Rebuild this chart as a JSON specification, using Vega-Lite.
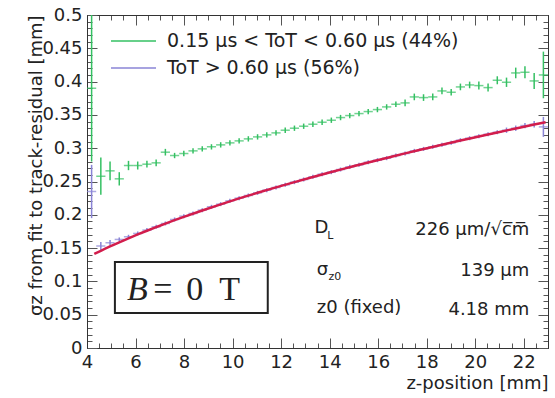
{
  "$schema": "https://vega.github.io/schema/vega-lite/v6.json",
  "width": 461,
  "height": 333,
  "autosize": {"type": "none"},
  "padding": {"left": 87, "top": 15, "right": 7, "bottom": 50},
  "background": "white",
  "datasets": {
    "green": [
      {"z": 4.19, "s": 0.390, "e": 0.110},
      {"z": 4.57, "s": 0.258, "e": 0.028},
      {"z": 4.95, "s": 0.266, "e": 0.014},
      {"z": 5.33, "s": 0.254, "e": 0.010},
      {"z": 5.71, "s": 0.274, "e": 0.007},
      {"z": 6.09, "s": 0.274, "e": 0.006},
      {"z": 6.47, "s": 0.276, "e": 0.005},
      {"z": 6.85, "s": 0.278, "e": 0.005},
      {"z": 7.23, "s": 0.294, "e": 0.005},
      {"z": 7.61, "s": 0.289, "e": 0.004},
      {"z": 7.99, "s": 0.292, "e": 0.004},
      {"z": 8.37, "s": 0.296, "e": 0.004},
      {"z": 8.75, "s": 0.299, "e": 0.004},
      {"z": 9.13, "s": 0.302, "e": 0.004},
      {"z": 9.51, "s": 0.305, "e": 0.004},
      {"z": 9.89, "s": 0.308, "e": 0.004},
      {"z": 10.27, "s": 0.311, "e": 0.004},
      {"z": 10.65, "s": 0.314, "e": 0.004},
      {"z": 11.03, "s": 0.317, "e": 0.004},
      {"z": 11.41, "s": 0.320, "e": 0.004},
      {"z": 11.79, "s": 0.323, "e": 0.004},
      {"z": 12.17, "s": 0.327, "e": 0.004},
      {"z": 12.55, "s": 0.330, "e": 0.004},
      {"z": 12.93, "s": 0.333, "e": 0.004},
      {"z": 13.31, "s": 0.336, "e": 0.004},
      {"z": 13.69, "s": 0.339, "e": 0.004},
      {"z": 14.07, "s": 0.342, "e": 0.004},
      {"z": 14.45, "s": 0.346, "e": 0.004},
      {"z": 14.83, "s": 0.349, "e": 0.004},
      {"z": 15.21, "s": 0.352, "e": 0.004},
      {"z": 15.59, "s": 0.355, "e": 0.004},
      {"z": 15.97, "s": 0.358, "e": 0.004},
      {"z": 16.35, "s": 0.362, "e": 0.004},
      {"z": 16.73, "s": 0.366, "e": 0.004},
      {"z": 17.11, "s": 0.368, "e": 0.005},
      {"z": 17.49, "s": 0.377, "e": 0.005},
      {"z": 17.87, "s": 0.376, "e": 0.005},
      {"z": 18.25, "s": 0.377, "e": 0.005},
      {"z": 18.63, "s": 0.386, "e": 0.005},
      {"z": 19.01, "s": 0.384, "e": 0.005},
      {"z": 19.39, "s": 0.392, "e": 0.005},
      {"z": 19.77, "s": 0.395, "e": 0.005},
      {"z": 20.15, "s": 0.394, "e": 0.006},
      {"z": 20.53, "s": 0.391, "e": 0.006},
      {"z": 20.91, "s": 0.402, "e": 0.006},
      {"z": 21.29, "s": 0.399, "e": 0.007},
      {"z": 21.67, "s": 0.413, "e": 0.008},
      {"z": 22.05, "s": 0.414, "e": 0.009},
      {"z": 22.43, "s": 0.401, "e": 0.012},
      {"z": 22.81, "s": 0.410, "e": 0.035}
    ],
    "purple": [
      {"z": 4.19, "s": 0.235, "e": 0.040},
      {"z": 4.57, "s": 0.153, "e": 0.006},
      {"z": 4.95, "s": 0.158, "e": 0.004},
      {"z": 5.33, "s": 0.163, "e": 0.003},
      {"z": 5.71, "s": 0.167, "e": 0.003},
      {"z": 6.09, "s": 0.172, "e": 0.003},
      {"z": 6.47, "s": 0.177, "e": 0.003},
      {"z": 6.85, "s": 0.182, "e": 0.003},
      {"z": 7.23, "s": 0.187, "e": 0.003},
      {"z": 7.61, "s": 0.193, "e": 0.003},
      {"z": 7.99, "s": 0.198, "e": 0.003},
      {"z": 8.37, "s": 0.202, "e": 0.003},
      {"z": 8.75, "s": 0.207, "e": 0.003},
      {"z": 9.13, "s": 0.212, "e": 0.003},
      {"z": 9.51, "s": 0.216, "e": 0.003},
      {"z": 9.89, "s": 0.221, "e": 0.003},
      {"z": 10.27, "s": 0.225, "e": 0.003},
      {"z": 10.65, "s": 0.229, "e": 0.003},
      {"z": 11.03, "s": 0.233, "e": 0.003},
      {"z": 11.41, "s": 0.237, "e": 0.003},
      {"z": 11.79, "s": 0.241, "e": 0.003},
      {"z": 12.17, "s": 0.245, "e": 0.003},
      {"z": 12.55, "s": 0.249, "e": 0.003},
      {"z": 12.93, "s": 0.253, "e": 0.003},
      {"z": 13.31, "s": 0.257, "e": 0.003},
      {"z": 13.69, "s": 0.261, "e": 0.003},
      {"z": 14.07, "s": 0.264, "e": 0.003},
      {"z": 14.45, "s": 0.268, "e": 0.003},
      {"z": 14.83, "s": 0.272, "e": 0.003},
      {"z": 15.21, "s": 0.275, "e": 0.003},
      {"z": 15.59, "s": 0.279, "e": 0.003},
      {"z": 15.97, "s": 0.282, "e": 0.003},
      {"z": 16.35, "s": 0.285, "e": 0.003},
      {"z": 16.73, "s": 0.289, "e": 0.003},
      {"z": 17.11, "s": 0.292, "e": 0.003},
      {"z": 17.49, "s": 0.296, "e": 0.003},
      {"z": 17.87, "s": 0.299, "e": 0.003},
      {"z": 18.25, "s": 0.302, "e": 0.003},
      {"z": 18.63, "s": 0.305, "e": 0.003},
      {"z": 19.01, "s": 0.308, "e": 0.003},
      {"z": 19.39, "s": 0.312, "e": 0.003},
      {"z": 19.77, "s": 0.315, "e": 0.003},
      {"z": 20.15, "s": 0.318, "e": 0.003},
      {"z": 20.53, "s": 0.321, "e": 0.003},
      {"z": 20.91, "s": 0.324, "e": 0.003},
      {"z": 21.29, "s": 0.327, "e": 0.004},
      {"z": 21.67, "s": 0.330, "e": 0.004},
      {"z": 22.05, "s": 0.334, "e": 0.004},
      {"z": 22.43, "s": 0.336, "e": 0.005},
      {"z": 22.81, "s": 0.332, "e": 0.015}
    ],
    "fit": [
      {"z": 4.30, "s": 0.1412},
      {"z": 4.57, "s": 0.1460},
      {"z": 4.95, "s": 0.1525},
      {"z": 5.33, "s": 0.1587},
      {"z": 5.71, "s": 0.1647},
      {"z": 6.09, "s": 0.1705},
      {"z": 6.47, "s": 0.1761},
      {"z": 6.85, "s": 0.1815},
      {"z": 7.23, "s": 0.1868},
      {"z": 7.61, "s": 0.1919},
      {"z": 7.99, "s": 0.1969},
      {"z": 8.75, "s": 0.2065},
      {"z": 9.51, "s": 0.2157},
      {"z": 10.27, "s": 0.2246},
      {"z": 11.03, "s": 0.2330},
      {"z": 11.79, "s": 0.2412},
      {"z": 12.55, "s": 0.2491},
      {"z": 13.31, "s": 0.2568},
      {"z": 14.07, "s": 0.2643},
      {"z": 14.83, "s": 0.2715},
      {"z": 15.59, "s": 0.2786},
      {"z": 16.35, "s": 0.2854},
      {"z": 17.11, "s": 0.2922},
      {"z": 17.87, "s": 0.2987},
      {"z": 18.63, "s": 0.3052},
      {"z": 19.39, "s": 0.3115},
      {"z": 20.15, "s": 0.3176},
      {"z": 20.91, "s": 0.3237},
      {"z": 21.67, "s": 0.3296},
      {"z": 22.43, "s": 0.3355},
      {"z": 22.90, "s": 0.3390}
    ],
    "paramLeft": [
      {"z": 13.38, "s": 0.1727, "text": "D"},
      {"z": 13.47, "s": 0.1096, "text": "σ"},
      {"z": 13.47, "s": 0.0526, "text": "z0 (fixed)"}
    ],
    "paramSub": [
      {"z": 13.90, "s": 0.1640, "text": "L"},
      {"z": 13.95, "s": 0.1020, "text": "z0"}
    ],
    "paramRight": [
      {"z": 22.23, "s": 0.1697, "text": "226 µm/√c̅m̅"},
      {"z": 22.23, "s": 0.1080, "text": "139 µm"},
      {"z": 22.23, "s": 0.0495, "text": "4.18 mm"}
    ],
    "boxItalic": [
      {"z": 5.65, "s": 0.072, "text": "B"}
    ],
    "boxUpright": [
      {"z": 7.13, "s": 0.072, "text": "="},
      {"z": 8.44, "s": 0.072, "text": "0"},
      {"z": 9.88, "s": 0.072, "text": "T"}
    ]
  },
  "resolve": {"axis": {"x": "independent", "y": "independent"}},
  "layer": [
    {
      "data": {"name": "green"},
      "mark": {"type": "tick", "orient": "horizontal", "size": 9.2, "thickness": 1.5, "color": "#35c063"},
      "encoding": {
        "x": {"field": "z", "type": "quantitative", "scale": {"domain": [4, 23], "nice": false, "zero": false},
          "axis": {"orient": "bottom", "values": [4, 6, 8, 10, 12, 14, 16, 18, 20, 22], "ticks": false, "domain": false, "labelPadding": 5, "labelFlush": false, "labelOverlap": false,
            "title": "z-position [mm]", "titleAnchor": "end", "titlePadding": 3}},
        "y": {"field": "s", "type": "quantitative", "scale": {"domain": [0, 0.5], "nice": false, "zero": true},
          "axis": {"orient": "left", "values": [0, 0.05, 0.1, 0.15, 0.2, 0.25, 0.3, 0.35, 0.4, 0.45, 0.5], "format": ".2~f", "ticks": false, "domain": false, "labelPadding": 5, "labelFlush": false, "labelOverlap": false,
            "title": "σz from fit to track-residual [mm]", "titleAnchor": "end", "titlePadding": -4}}
      }
    },
    {
      "data": {"name": "green"},
      "mark": {"type": "errorbar", "thickness": 1.5},
      "encoding": {
        "x": {"field": "z", "type": "quantitative", "axis": null},
        "y": {"field": "s", "type": "quantitative", "axis": null},
        "yError": {"field": "e"},
        "color": {"datum": "0.15 µs < ToT < 0.60 µs (44%)", "type": "nominal",
          "scale": {"domain": ["0.15 µs < ToT < 0.60 µs (44%)", "ToT > 0.60 µs (56%)"], "range": ["#35c063", "#8a84d6"]},
          "legend": {"orient": "none", "legendX": 23, "legendY": 16.5, "title": null, "symbolType": "stroke", "symbolSize": 2025, "symbolStrokeWidth": 1.5,
            "clipHeight": 19, "labelOffset": 10, "rowPadding": 7, "padding": 0, "labelFont": "DejaVu Sans", "labelFontSize": 19, "labelColor": "#222", "labelLimit": 400}}
      }
    },
    {
      "data": {"name": "purple"},
      "mark": {"type": "tick", "orient": "horizontal", "size": 9.2, "thickness": 1.5, "color": "#8a84d6"},
      "encoding": {
        "x": {"field": "z", "type": "quantitative",
          "axis": {"orient": "bottom", "tickCount": 38, "labels": false, "ticks": true, "tickSize": -5, "domain": true, "title": null}},
        "y": {"field": "s", "type": "quantitative",
          "axis": {"orient": "left", "tickCount": 50, "labels": false, "ticks": true, "tickSize": -5, "domain": true, "title": null}}
      }
    },
    {
      "data": {"name": "purple"},
      "mark": {"type": "errorbar", "thickness": 1.5},
      "encoding": {
        "x": {"field": "z", "type": "quantitative", "axis": null},
        "y": {"field": "s", "type": "quantitative", "axis": null},
        "yError": {"field": "e"},
        "color": {"datum": "ToT > 0.60 µs (56%)", "type": "nominal"}
      }
    },
    {
      "data": {"name": "fit"},
      "mark": {"type": "line", "color": "#d21d4c", "strokeWidth": 2.5, "interpolate": "monotone"},
      "encoding": {
        "x": {"field": "z", "type": "quantitative",
          "axis": {"orient": "top", "tickCount": 38, "labels": false, "ticks": true, "tickSize": -5, "domain": true, "title": null}},
        "y": {"field": "s", "type": "quantitative",
          "axis": {"orient": "right", "tickCount": 50, "labels": false, "ticks": true, "tickSize": -5, "domain": true, "title": null}}
      }
    },
    {
      "data": {"values": [{}]},
      "mark": {"type": "rect", "fill": "white", "stroke": "#222", "strokeWidth": 2},
      "encoding": {
        "x": {"datum": 5.15, "type": "quantitative", "axis": null},
        "x2": {"datum": 11.45},
        "y": {"datum": 0.0526, "type": "quantitative", "axis": null},
        "y2": {"datum": 0.129}
      }
    },
    {
      "data": {"name": "boxItalic"},
      "mark": {"type": "text", "font": "Liberation Serif", "fontSize": 34, "fontStyle": "italic", "align": "left", "baseline": "alphabetic", "color": "#222"},
      "encoding": {
        "x": {"field": "z", "type": "quantitative", "axis": null},
        "y": {"field": "s", "type": "quantitative", "axis": null},
        "text": {"field": "text"}
      }
    },
    {
      "data": {"name": "boxUpright"},
      "mark": {"type": "text", "font": "Liberation Serif", "fontSize": 34, "align": "center", "baseline": "alphabetic", "color": "#222"},
      "encoding": {
        "x": {"field": "z", "type": "quantitative", "axis": null},
        "y": {"field": "s", "type": "quantitative", "axis": null},
        "text": {"field": "text"}
      }
    },
    {
      "data": {"name": "paramLeft"},
      "mark": {"type": "text", "font": "DejaVu Sans", "fontSize": 18, "align": "left", "baseline": "alphabetic", "color": "#222"},
      "encoding": {
        "x": {"field": "z", "type": "quantitative",
          "axis": {"orient": "bottom", "tickCount": 10, "labels": false, "ticks": true, "tickSize": -10, "domain": true, "title": null}},
        "y": {"field": "s", "type": "quantitative",
          "axis": {"orient": "left", "tickCount": 10, "labels": false, "ticks": true, "tickSize": -10, "domain": true, "title": null}},
        "text": {"field": "text"}
      }
    },
    {
      "data": {"name": "paramSub"},
      "mark": {"type": "text", "font": "DejaVu Sans", "fontSize": 11, "align": "left", "baseline": "alphabetic", "color": "#222"},
      "encoding": {
        "x": {"field": "z", "type": "quantitative", "axis": null},
        "y": {"field": "s", "type": "quantitative", "axis": null},
        "text": {"field": "text"}
      }
    },
    {
      "data": {"name": "paramRight"},
      "mark": {"type": "text", "font": "DejaVu Sans", "fontSize": 18, "align": "right", "baseline": "alphabetic", "color": "#222"},
      "encoding": {
        "x": {"field": "z", "type": "quantitative",
          "axis": {"orient": "top", "tickCount": 10, "labels": false, "ticks": true, "tickSize": -10, "domain": true, "title": null}},
        "y": {"field": "s", "type": "quantitative",
          "axis": {"orient": "right", "tickCount": 10, "labels": false, "ticks": true, "tickSize": -10, "domain": true, "title": null}},
        "text": {"field": "text"}
      }
    }
  ],
  "config": {
    "view": {"stroke": "#333", "strokeWidth": 1},
    "font": "DejaVu Sans",
    "axis": {"grid": false, "labelFont": "DejaVu Sans", "labelFontSize": 18, "labelColor": "#222", "domainColor": "#333", "domainWidth": 1,
      "titleFont": "DejaVu Sans", "titleFontSize": 18, "titleFontWeight": "normal", "titleColor": "#222", "tickColor": "#555", "tickWidth": 1}
  }
}
